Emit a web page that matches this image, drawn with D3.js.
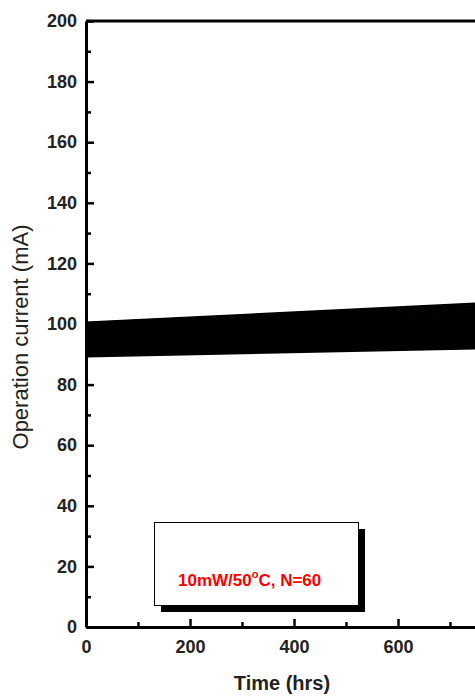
<!DOCTYPE html>
<html>
<head>
<meta charset="utf-8">
<script src="https://cdn.jsdelivr.net/npm/d3@7"></script>
<style>
  html, body { margin: 0; padding: 0; background: #fff; }
  svg { display: block; font-family: "Liberation Sans", Arial, sans-serif; }
</style>
</head>
<body>
<svg id="chart" width="475" height="698"></svg>
<script>
// ---- data ----
const times = [0, 750];                 // hrs
const current0 = [89.3, 90.6, 92.1, 93.8, 95.2, 96.9, 98.4, 99.7, 91.2, 94.5, 97.3, 100.3,
  89.8, 92.9, 95.8, 98.9, 90.2, 93.3, 96.2, 99.2, 91.7, 94.1, 97.7, 100.1, 90.9, 93.6, 96.5, 99.4,
  92.4, 95.0, 97.9, 89.6, 91.5, 94.8, 98.1, 100.5, 90.4, 93.0, 96.0, 99.0, 92.7, 95.5, 97.1,
  91.0, 94.3, 98.6, 89.9, 92.2, 95.3, 99.8, 90.7, 93.9, 96.7, 98.0, 91.9, 94.6, 97.5, 100.0, 93.1, 96.3];
const current750 = [91.9, 93.6, 95.4, 97.6, 99.5, 101.6, 103.6, 105.5, 94.2, 98.3, 102.3, 106.5,
  92.5, 96.5, 100.1, 104.1, 93.0, 97.0, 100.6, 104.8, 94.9, 97.9, 102.6, 106.0, 93.9, 97.4, 101.2, 105.0,
  95.9, 99.1, 103.1, 92.2, 94.6, 98.8, 103.0, 106.8, 93.3, 96.7, 100.3, 104.4, 96.2, 99.8, 101.9,
  94.0, 98.0, 103.9, 92.6, 95.6, 99.4, 105.6, 93.7, 97.8, 101.4, 102.8, 95.1, 98.5, 102.4, 105.7, 96.9, 100.8];
const yMajorTicks = [0, 20, 40, 60, 80, 100, 120, 140, 160, 180, 200];
const yMinorTicks = [10, 30, 50, 70, 90, 110, 130, 150, 170, 190];
const xMajorTicks = [0, 200, 400, 600];
const xMinorTicks = [100, 300, 500, 700];
const xLabel = "Time (hrs)";
const yLabel = "Operation current (mA)";
const legendText = ["10mW/50", "o", "C, N=60"];

// ---- chart ----
const svg = d3.select("#chart");
const x = d3.scaleLinear().domain([0, 1000]).range([86, 606]);
const y = d3.scaleLinear().domain([0, 200]).range([627, 21]);

const series = current0.map((v, i) => [[times[0], v], [times[1], current750[i]]]);
const line = d3.line().x(d => x(d[0])).y(d => y(d[1]));

svg.append("g").selectAll("path").data(series).join("path")
  .attr("d", line)
  .attr("fill", "none")
  .attr("stroke", "#000")
  .attr("stroke-width", 2);

// top frame
svg.append("line").attr("x1", x(0)).attr("x2", 475).attr("y1", y(200)).attr("y2", y(200))
  .attr("stroke", "#000").attr("stroke-width", 3);

function styleAxis(g) {
  g.select(".domain").attr("stroke-width", 3);
  g.selectAll(".tick line").attr("stroke-width", 2.5);
  g.selectAll("text").attr("font-size", 18).attr("font-weight", "bold").attr("fill", "#222")
    .attr("font-family", "'Liberation Sans', Arial, sans-serif");
}

// y axis
svg.append("g").attr("transform", `translate(${x(0)},0)`)
  .call(d3.axisLeft(y).tickValues(yMinorTicks).tickSize(-5).tickSizeOuter(0).tickFormat(""))
  .call(g => g.select(".domain").remove())
  .call(g => g.selectAll(".tick line").attr("stroke-width", 2.5));
svg.append("g").attr("transform", `translate(${x(0)},0)`)
  .call(d3.axisLeft(y).tickValues(yMajorTicks).tickSize(-8).tickSizeOuter(0).tickPadding(9))
  .call(styleAxis);

// x axis
svg.append("g").attr("transform", `translate(0,${y(0)})`)
  .call(d3.axisBottom(x).tickValues(xMinorTicks).tickSize(-5).tickSizeOuter(0).tickFormat(""))
  .call(g => g.select(".domain").remove())
  .call(g => g.selectAll(".tick line").attr("stroke-width", 2.5));
svg.append("g").attr("transform", `translate(0,${y(0)})`)
  .call(d3.axisBottom(x).tickValues(xMajorTicks).tickSize(-8).tickSizeOuter(0).tickPadding(13))
  .call(styleAxis);

// axis titles
svg.append("text").attr("x", 282).attr("y", 690).attr("text-anchor", "middle")
  .attr("font-size", 20).attr("font-weight", "bold").attr("fill", "#222").text(xLabel);
svg.append("text").attr("transform", "translate(28,337) rotate(-90)").attr("text-anchor", "middle")
  .attr("font-size", 22).attr("fill", "#222").text(yLabel);

// legend box with shadow
svg.append("rect").attr("x", 161).attr("y", 529).attr("width", 204).attr("height", 83).attr("fill", "#000");
svg.append("rect").attr("x", 154.5).attr("y", 522.5).attr("width", 204).attr("height", 83)
  .attr("fill", "#fff").attr("stroke", "#000").attr("stroke-width", 1);
const lt = svg.append("text").attr("x", 178).attr("y", 586).attr("font-size", 17)
  .attr("font-weight", "bold").attr("fill", "#ff0000");
lt.append("tspan").text(legendText[0]);
lt.append("tspan").attr("font-size", 11).attr("dy", -8).text(legendText[1]);
lt.append("tspan").attr("dy", 8).text(legendText[2]);
</script>
</body>
</html>
